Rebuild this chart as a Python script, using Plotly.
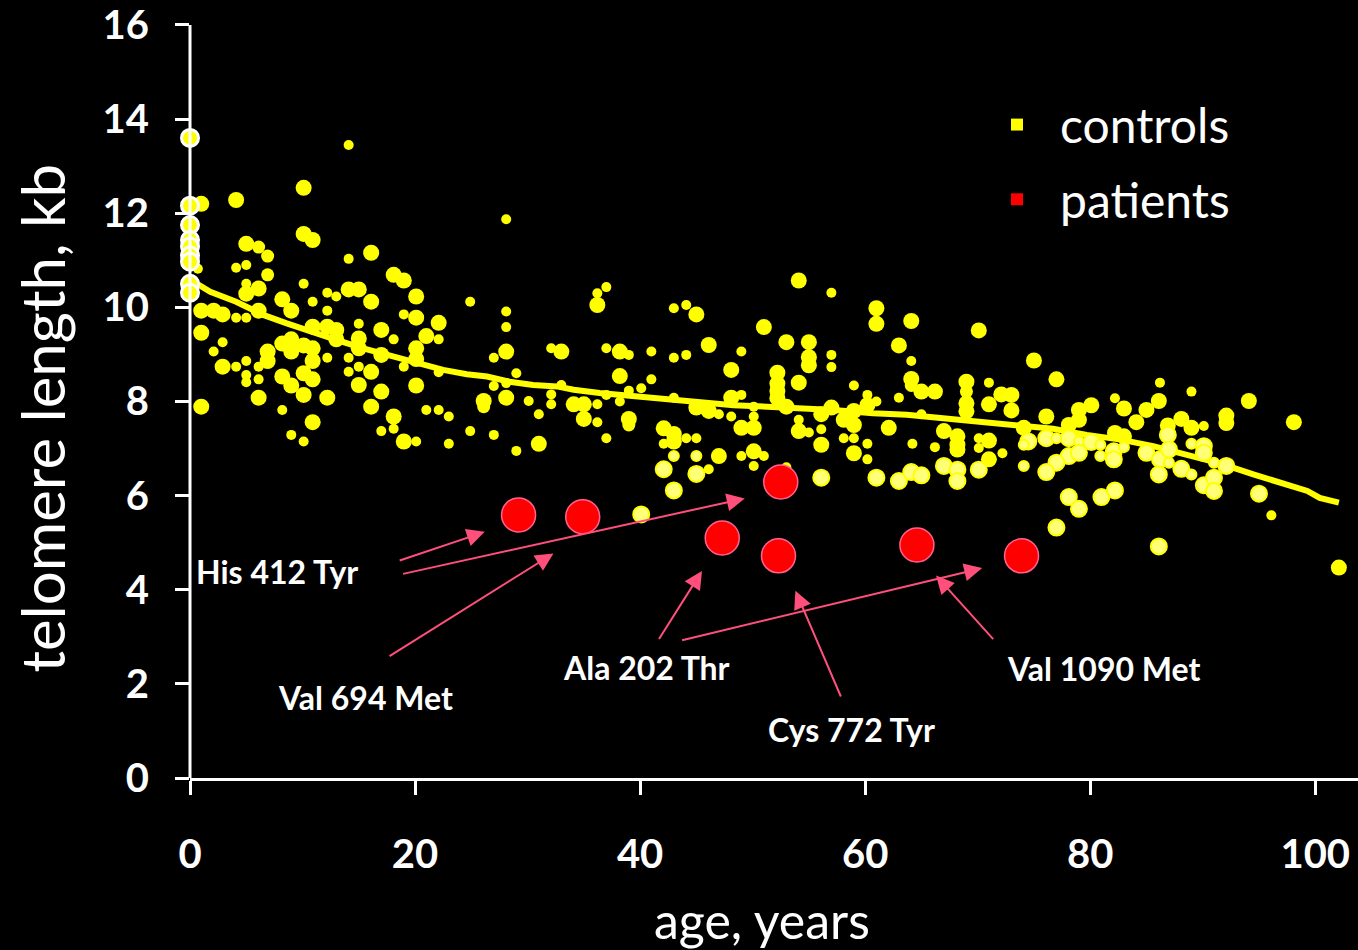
import plotly.graph_objects as go

# ---- controls (healthy individuals), size class 1 = few, 3 = many samples ----
ctrl_age = [
    1.0, 4.1, 14.1, 10.1, 10.1, 10.9, 5.0, 6.1, 6.9, 16.1, 14.1, 4.1, 5.0, 0.7, 6.9, 10.1, 18.1, 19.0, 5.0, 6.1,
    5.0, 8.2, 12.2, 13.0, 14.1, 15.0, 20.1, 24.9, 10.9, 16.1, 1.0, 2.1, 2.9, 4.1, 5.0, 6.1, 9.0, 12.2, 19.0, 20.1,
    22.1, 15.0, 10.9, 12.2, 13.0, 17.0, 1.0, 21.0, 18.1, 22.1, 15.0, 2.9, 8.2, 9.0, 10.1, 10.9, 13.0, 15.0, 20.1, 2.1,
    6.9, 9.0, 17.0, 6.9, 10.9, 12.2, 14.1, 20.1, 2.9, 4.1, 5.0, 6.1, 15.0, 16.1, 19.0, 22.1, 14.1, 5.0, 5.0, 6.1,
    8.2, 9.0, 10.1, 10.9, 15.0, 20.1, 17.0, 6.1, 10.1, 12.2, 16.1, 1.0, 8.2, 21.0, 22.1, 18.1, 23.0, 10.9, 17.0, 18.1,
    24.9, 9.0, 10.1, 19.0, 20.1, 23.0,
    28.1, 28.1, 28.1, 36.2, 37.0, 36.2, 43.0, 44.1, 45.0, 28.1, 27.0, 32.1, 33.0, 37.0, 38.2, 39.0, 41.0, 43.0, 44.1, 46.1,
    49.0, 48.1, 29.0, 38.2, 41.0, 27.0, 28.1, 33.0, 40.1, 39.0, 26.1, 26.1, 28.1, 30.1, 32.1, 32.1, 34.1, 35.0, 36.2, 37.0,
    38.2, 43.0, 45.0, 46.1, 47.0, 48.1, 49.0, 31.0, 35.0, 36.2, 39.0, 39.0, 48.1, 42.1, 43.0, 43.0, 42.1, 44.1, 45.0, 49.0,
    27.0, 37.0, 31.0, 29.0, 46.1, 47.0, 49.0,
    54.1, 57.0, 61.0, 61.0, 64.1, 70.1, 51.0, 53.0, 55.0, 55.0, 55.0, 57.0, 57.0, 63.0, 64.1, 52.2, 52.2, 52.2, 52.2, 54.1,
    59.0, 64.1, 64.1, 65.0, 66.2, 69.0, 69.0, 69.0, 69.0, 71.0, 60.2, 61.0, 63.0, 53.0, 57.0, 59.0, 60.2, 56.1, 71.0, 72.1,
    73.0, 73.0, 65.0, 50.1, 50.1, 58.1, 59.0, 54.1, 50.1, 56.1, 62.1, 54.1, 55.0, 67.0, 68.2, 68.2, 74.1, 58.1, 59.0, 56.1,
    64.2, 66.2, 70.1, 71.0, 70.1, 60.2, 68.2, 50.1, 51.0, 59.0, 60.2, 72.2, 71.0, 50.1, 53.0,
    75.0, 77.0, 86.2, 89.0, 94.1, 98.1, 82.2, 83.0, 85.0, 86.1, 80.1, 79.0, 79.0, 76.1, 84.1, 92.1, 92.1, 88.1, 89.0, 86.9,
    90.1, 78.1, 82.2, 83.0, 96.1, 102.1,
]
ctrl_tl = [
    12.20, 12.28, 13.45, 12.54, 11.56, 11.43, 11.35, 11.28, 11.09, 11.16, 11.03, 10.84, 10.90, 10.82, 10.69, 10.50, 10.69, 10.57, 10.50, 10.40,
    10.29, 10.17, 10.31, 10.23, 10.38, 10.38, 10.23, 10.12, 10.12, 10.12, 9.93, 9.93, 9.85, 9.78, 9.78, 9.93, 9.93, 9.93, 9.85, 9.78,
    9.67, 9.65, 9.59, 9.59, 9.52, 9.52, 9.46, 9.39, 9.32, 9.32, 9.34, 9.26, 9.23, 9.32, 9.19, 9.13, 9.32, 9.13, 9.13, 9.06,
    9.06, 9.06, 8.99, 8.86, 8.86, 8.93, 8.93, 8.90, 8.74, 8.74, 8.86, 8.74, 8.74, 8.63, 8.74, 8.62, 8.63, 8.56, 8.41, 8.47,
    8.53, 8.34, 8.60, 8.47, 8.35, 8.34, 8.21, 8.08, 8.14, 8.08, 7.89, 7.89, 7.82, 7.82, 7.82, 7.68, 7.68, 7.56, 7.37, 7.42,
    7.37, 7.29, 7.15, 7.15, 7.15, 7.10,
    11.87, 9.91, 9.58, 10.30, 10.43, 10.05, 9.98, 10.05, 9.85, 9.06, 8.93, 9.13, 9.06, 9.13, 9.06, 8.99, 9.06, 8.93, 8.99, 9.20,
    9.06, 8.67, 8.60, 8.54, 8.47, 8.33, 8.39, 8.35, 8.28, 8.23, 8.01, 7.89, 8.08, 8.01, 8.15, 7.94, 7.94, 7.94, 7.94, 8.14,
    8.00, 8.08, 7.87, 7.80, 7.73, 8.08, 8.14, 7.73, 7.63, 7.56, 7.63, 7.50, 7.68, 7.43, 7.31, 7.15, 7.10, 7.22, 7.22, 7.44,
    7.29, 7.22, 7.10, 6.95, 6.56, 6.84, 6.84,
    10.57, 10.31, 9.98, 9.65, 9.71, 9.51, 9.58, 9.26, 9.26, 8.94, 8.77, 8.99, 8.73, 9.19, 8.86, 8.61, 8.38, 8.22, 8.07, 8.40,
    8.34, 8.48, 8.34, 8.21, 8.21, 8.42, 8.21, 7.96, 7.79, 8.40, 8.14, 8.00, 8.08, 7.89, 7.87, 7.80, 7.92, 7.73, 7.94, 8.15,
    8.14, 7.81, 7.73, 7.89, 7.68, 7.61, 7.50, 7.61, 7.44, 7.41, 7.44, 7.37, 7.34, 7.37, 7.26, 7.08, 7.44, 7.22, 7.22, 7.08,
    7.10, 7.03, 7.22, 7.17, 7.01, 7.10, 6.98, 6.94, 6.84, 6.90, 6.77, 6.90, 6.77, 6.63, 6.60,
    8.87, 8.47, 8.40, 8.21, 8.01, 7.56, 8.07, 7.85, 7.82, 8.01, 7.92, 7.82, 7.61, 7.68, 7.56, 7.70, 7.54, 7.63, 7.44, 7.49,
    7.48, 7.50, 7.33, 7.26, 5.58, 4.47,
]
ctrl_n = [
    3, 3, 1, 3, 3, 3, 3, 2, 2, 3, 1, 1, 1, 1, 2, 1, 3, 3, 1, 3,
    3, 3, 1, 1, 3, 3, 3, 1, 1, 3, 3, 3, 3, 1, 1, 3, 3, 1, 1, 3,
    3, 1, 3, 3, 3, 3, 3, 3, 1, 1, 3, 1, 3, 3, 3, 3, 3, 3, 3, 1,
    3, 3, 3, 3, 3, 1, 1, 3, 3, 1, 1, 1, 1, 3, 1, 1, 1, 1, 1, 1,
    3, 3, 3, 3, 3, 3, 3, 3, 3, 3, 3, 3, 1, 1, 1, 3, 1, 3, 1, 1,
    1, 1, 1, 3, 1, 1,
    1, 1, 1, 1, 1, 3, 1, 1, 3, 3, 1, 1, 3, 1, 3, 1, 1, 1, 1, 3,
    1, 3, 1, 3, 1, 1, 1, 1, 1, 1, 3, 2, 3, 1, 1, 1, 3, 3, 1, 1,
    1, 1, 3, 3, 1, 3, 1, 1, 3, 1, 3, 2, 1, 3, 3, 3, 1, 1, 1, 3,
    1, 1, 3, 1, 1, 3, 1,
    3, 1, 3, 3, 3, 3, 3, 3, 3, 3, 3, 1, 1, 3, 1, 3, 3, 3, 3, 3,
    1, 3, 2, 3, 3, 3, 2, 3, 3, 1, 1, 1, 1, 3, 3, 3, 3, 3, 3, 3,
    3, 3, 1, 1, 1, 3, 3, 1, 3, 1, 3, 3, 1, 3, 3, 3, 3, 1, 1, 3,
    1, 1, 1, 3, 1, 1, 3, 3, 1, 3, 1, 1, 3, 1, 1,
    3, 3, 1, 1, 3, 3, 1, 3, 3, 3, 3, 3, 3, 3, 3, 3, 3, 3, 3, 3,
    1, 3, 3, 3, 1, 3,
]

# second control cohort (drawn pale)
pale_age = [43.0, 45.0, 42.1, 45.0, 43.0, 40.1,
            67.0, 68.2, 68.2, 70.1, 74.1, 56.1, 61.0, 63.0, 64.1, 65.0,
            86.9, 74.5, 76.1, 77.0, 78.1, 79.0, 80.1, 80.9, 74.1, 82.1, 82.1, 83.0, 85.0, 86.2, 87.0, 87.0, 89.0, 90.1, 90.1,
            91.0, 92.1, 78.1, 79.0, 77.0, 76.1, 80.9, 86.1, 88.1, 89.0, 90.1, 91.0, 91.0, 95.0, 78.1, 79.0, 81.0, 82.2, 77.0, 86.1]
pale_tl = [6.84, 6.84, 6.56, 6.46, 6.11, 5.60,
           6.63, 6.55, 6.31, 6.55, 6.63, 6.38, 6.38, 6.31, 6.50, 6.43,
           7.29, 7.15, 7.22, 7.22, 7.22, 7.15, 7.14, 7.08, 7.08, 6.94, 6.77, 7.03, 6.91, 6.77, 6.98, 6.70, 7.10, 7.05, 6.91,
           6.70, 6.63, 6.84, 6.91, 6.70, 6.50, 6.84, 6.45, 6.57, 6.45, 6.22, 6.38, 6.10, 6.04, 5.97, 5.72, 5.97, 6.11, 5.32, 4.92]
pale_n = [1, 1, 3, 3, 3, 3,
          3, 3, 3, 3, 1, 3, 3, 3, 3, 3,
          3, 3, 3, 1, 3, 1, 3, 1, 1, 3, 3, 1, 3, 3, 3, 1, 1, 3, 3,
          1, 3, 3, 3, 3, 3, 1, 3, 3, 1, 3, 3, 3, 3, 3, 3, 3, 3, 3, 3]

# newborns (cord blood)
nb_age = [0, 0, 0, 0, 0, 0, 0, 0, 0]
nb_tl = [13.60, 12.16, 11.75, 11.43, 11.29, 11.10, 10.97, 10.50, 10.31]

# running mean of controls
trend_age = [0, 1.8, 4.1, 6.5, 8.6, 10.7, 13.0, 15.4, 17.5, 19.6, 22.5, 24.6, 26.4, 28.4, 30.5, 32.6, 34.1,
             36.4, 39.4, 42.4, 45.3, 48.3, 51.3, 54.5, 57.2, 60.7, 63.7, 66.7, 69.6, 72.6, 74.7, 76.7, 79.7,
             82.7, 85.6, 88.6, 91.6, 94.5, 97.4, 99.3, 100.4, 102.1]
trend_tl = [10.59, 10.33, 10.12, 9.84, 9.66, 9.48, 9.31, 9.13, 8.99, 8.88, 8.67, 8.58, 8.53, 8.42, 8.35, 8.32, 8.25,
            8.18, 8.11, 8.04, 7.97, 7.92, 7.89, 7.86, 7.82, 7.75, 7.72, 7.65, 7.58, 7.50, 7.44, 7.42, 7.29,
            7.19, 7.05, 6.87, 6.68, 6.45, 6.24, 6.10, 5.95, 5.85]

# patients carrying mutations
pt_age = [29.2, 34.9, 47.3, 52.5, 52.3, 64.6, 73.9]
pt_tl = [5.59, 5.55, 5.10, 6.29, 4.72, 4.95, 4.72]

# mutation labels: text, label position, arrow (tail -> head) pairs
mut_labels = ["His 412 Tyr", "Val 694 Met", "Ala 202 Thr", "Cys 772 Tyr", "Val 1090 Met"]
mut_label_age = [7.7, 15.6, 40.6, 58.8, 81.2]
mut_label_tl = [4.38, 1.71, 2.35, 1.02, 2.33]
arrow_tail_age = [18.5, 18.8, 17.6, 41.6, 43.6, 57.9, 71.5]
arrow_tail_tl = [4.61, 4.33, 2.57, 2.92, 2.92, 1.70, 2.92]
arrow_head_age = [26.2, 49.3, 32.3, 45.5, 70.4, 53.8, 66.3]
arrow_head_tl = [5.23, 5.94, 4.77, 4.40, 4.46, 3.98, 4.30]

y_ticks = [0, 2, 4, 6, 8, 10, 12, 14, 16]
x_ticks = [0, 20, 40, 60, 80, 100]

FONT = "Lato, Carlito, Calibri, sans-serif"
YELLOW = "#ffff00"
RED = "#ff0000"
ARROW = "#ff4f7b"
size_px = {1: 10, 2: 13, 3: 16}

# figure geometry (pixels)
W, H = 1358, 950
ML, MR, MT, MB = 190, 0, 13, 172
PW, PH = W - ML - MR, H - MT - MB
Y_MAX = 16.19

fig = go.Figure()

fig.add_trace(go.Scatter(
    x=trend_age, y=trend_tl, mode="lines",
    line=dict(color=YELLOW, width=6), hoverinfo="skip", showlegend=False,
))
fig.add_trace(go.Scatter(
    x=ctrl_age, y=ctrl_tl, mode="markers", name="controls", showlegend=False,
    marker=dict(color=YELLOW, opacity=1, size=[size_px[n] for n in ctrl_n], line=dict(width=0)),
    cliponaxis=False,
))
fig.add_trace(go.Scatter(
    x=pale_age, y=pale_tl, mode="markers", name="controls (cohort 2)", showlegend=False,
    marker=dict(color="#ffff78", opacity=1, size=[size_px[n] for n in pale_n], line=dict(color=YELLOW, width=2)),
    cliponaxis=False,
))
fig.add_trace(go.Scatter(
    x=nb_age, y=nb_tl, mode="markers", name="newborns", showlegend=False,
    marker=dict(color=YELLOW, opacity=1, size=17, line=dict(color="white", width=3)),
    cliponaxis=False,
))
fig.add_trace(go.Scatter(
    x=pt_age, y=pt_tl, mode="markers", name="patients", showlegend=False,
    marker=dict(color=RED, opacity=1, size=34, line=dict(color="#ff6090", width=1.5)),
    cliponaxis=False,
))

annotations = []
for t, a, v in zip(mut_labels, mut_label_age, mut_label_tl):
    annotations.append(dict(
        x=a, y=v, xref="x", yref="y", text=t, showarrow=False,
        font=dict(family=FONT, size=32, color="white", weight="bold"),
    ))
for ta, tv, ha, hv in zip(arrow_tail_age, arrow_tail_tl, arrow_head_age, arrow_head_tl):
    annotations.append(dict(
        x=ha, y=hv, ax=ta, ay=tv, xref="x", yref="y", axref="x", ayref="y",
        text="", showarrow=True, arrowhead=2, arrowsize=1.8, arrowwidth=2,
        arrowcolor=ARROW, standoff=0, startstandoff=0,
    ))

# legend: coloured squares with labels
legend_names = ["controls", "patients"]
legend_colors = [YELLOW, RED]
legend_py = [122, 197]
shapes = []
for name, col, py in zip(legend_names, legend_colors, legend_py):
    ly = (H - MB - py) / PH
    shapes.append(dict(
        type="rect", xref="paper", yref="paper",
        x0=(1011 - ML) / PW, x1=(1023 - ML) / PW,
        y0=ly - 6 / PH, y1=ly + 6 / PH,
        fillcolor=col, line=dict(width=0),
    ))
    annotations.append(dict(
        x=(1058 - ML) / PW, y=ly, xref="paper", yref="paper",
        xanchor="left", yanchor="middle", text=name, showarrow=False,
        font=dict(family=FONT, size=48, color="white"),
    ))

# axis titles
annotations.append(dict(
    x=(762 - ML) / PW, y=-(921 - (H - MB)) / PH, xref="paper", yref="paper",
    text="age, years", showarrow=False, xanchor="center", yanchor="middle",
    font=dict(family=FONT, size=50, color="white"),
))
annotations.append(dict(
    x=-(ML - 42) / PW, y=(H - MB - 417) / PH, xref="paper", yref="paper",
    text="telomere length, kb", showarrow=False, xanchor="center", yanchor="middle",
    textangle=-90, font=dict(family=FONT, size=60, color="white"),
))

# vertical axis line, ending at the top tick
shapes.append(dict(
    type="line", xref="paper", yref="y", x0=0, x1=0, y0=0, y1=y_ticks[-1],
    line=dict(color="white", width=3),
))

tick_style = dict(
    showgrid=False, zeroline=False,
    ticks="outside", ticklen=14, tickwidth=3, tickcolor="white",
    ticklabeloverflow="allow",
    tickfont=dict(family=FONT, size=40, color="white", weight="bold"),
)

fig.update_layout(
    width=W, height=H,
    margin=dict(l=ML, r=MR, t=MT, b=MB),
    paper_bgcolor="black", plot_bgcolor="black",
    showlegend=False,
    xaxis=dict(range=[0, 103.8], tickvals=x_ticks, ticklabelstandoff=25,
               showline=True, linecolor="white", linewidth=3, **tick_style),
    yaxis=dict(range=[0, Y_MAX], tickvals=y_ticks, ticklabelstandoff=18,
               showline=False, **tick_style),
    annotations=annotations,
    shapes=shapes,
)

fig.write_html("out.html")
